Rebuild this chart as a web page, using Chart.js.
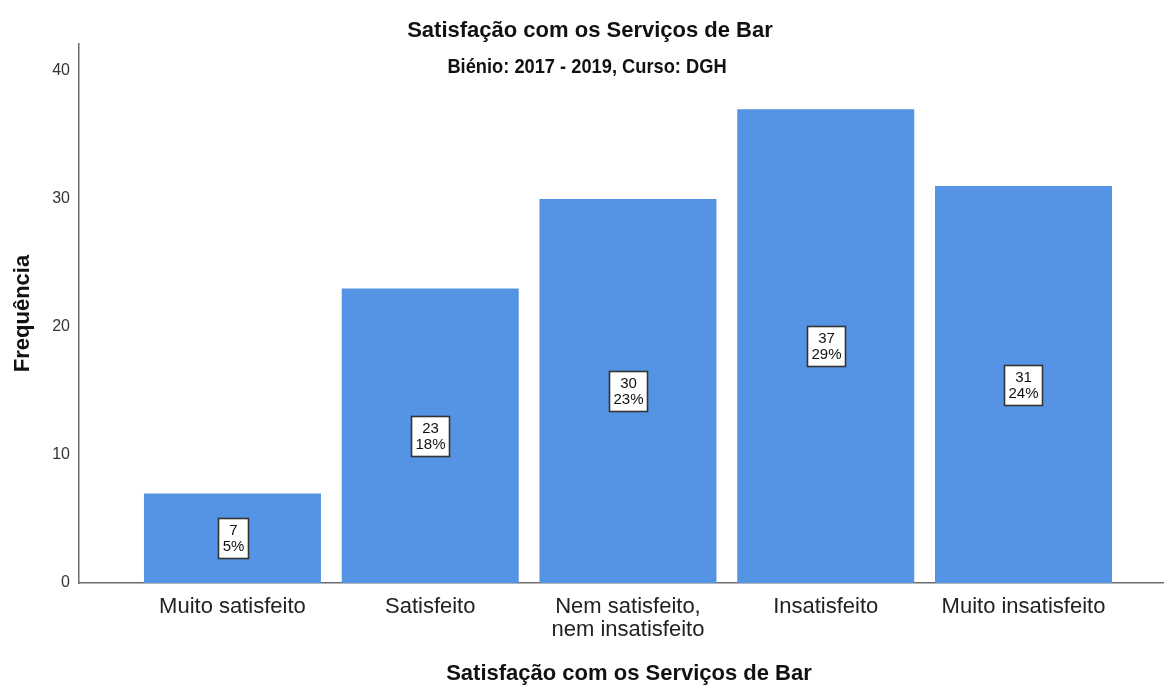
<!DOCTYPE html>
<html>
<head>
<meta charset="utf-8">
<script src="https://cdn.jsdelivr.net/npm/chart.js@4.4.1/dist/chart.umd.min.js"></script>
<style>
  html, body { margin: 0; padding: 0; background: #ffffff; }
  #wrap { width: 1164px; height: 686px; position: relative; }
</style>
</head>
<body>
<div id="wrap"><canvas id="c" width="1164" height="686"></canvas></div>
<script>
// ---- data ----
const categories = [
  ["Muito satisfeito"],
  ["Satisfeito"],
  ["Nem satisfeito,", "nem insatisfeito"],
  ["Insatisfeito"],
  ["Muito insatisfeito"]
];
const frequencies = [7, 23, 30, 37, 31];
const percentLabels = ["5%", "18%", "23%", "29%", "24%"];
const yTicks = [0, 10, 20, 30, 40];
const chartTitle = "Satisfação com os Serviços de Bar";
const chartSubtitle = "Biénio: 2017 - 2019, Curso: DGH";
const xAxisTitle = "Satisfação com os Serviços de Bar";
const yAxisTitle = "Frequência";

const FONT = "'Liberation Sans', Arial, sans-serif";
Chart.defaults.font.family = FONT;

const textPlugin = {
  id: 'texts',
  afterDatasetsDraw(chart) {
    const ctx = chart.ctx;
    const meta = chart.getDatasetMeta(0);
    ctx.save();
    meta.data.forEach((bar, i) => {
      const cx = bar.x;
      const cy = (bar.y + bar.base) / 2;
      ctx.font = "15px " + FONT;
      const lines = [String(frequencies[i]), percentLabels[i]];
      const w = Math.max(...lines.map(l => ctx.measureText(l).width)) + 8;
      const lh = 16;
      const h = lines.length * lh + 8;
      const x0 = Math.round(cx - w / 2) + 0.5, y0 = Math.round(cy - h / 2) + 0.5;
      ctx.fillStyle = '#ffffff';
      ctx.fillRect(x0, y0, Math.round(w), h);
      ctx.strokeStyle = '#333333';
      ctx.lineWidth = 1.6;
      ctx.strokeRect(x0, y0, Math.round(w), h);
      ctx.fillStyle = '#111111';
      ctx.textAlign = 'center';
      ctx.textBaseline = 'middle';
      lines.forEach((l, j) => ctx.fillText(l, x0 + Math.round(w) / 2, y0 + 4 + lh / 2 + j * lh + 0.5));
    });
    ctx.restore();
  },
  afterDraw(chart) {
    const ctx = chart.ctx;
    ctx.save();
    ctx.textAlign = 'center';
    ctx.textBaseline = 'middle';
    ctx.fillStyle = '#111111';
    ctx.font = "bold 22px " + FONT;
    ctx.fillText(chartTitle, 590, 30.5);
    ctx.font = "bold 21px " + FONT;
    ctx.save();
    ctx.translate(587, 67.5);
    ctx.scale(0.87, 1);
    ctx.fillText(chartSubtitle, 0, 0);
    ctx.restore();
    ctx.font = "bold 22px " + FONT;
    ctx.fillText(xAxisTitle, 629, 673.5);
    ctx.restore();
  }
};

new Chart(document.getElementById('c'), {
  type: 'bar',
  data: {
    datasets: [{
      data: frequencies.map((v, i) => ({ x: i, y: v })),
      backgroundColor: '#5594e4',
      borderWidth: 0,
      categoryPercentage: 1,
      barPercentage: 0.895
    }]
  },
  options: {
    responsive: false,
    animation: false,
    devicePixelRatio: 1,
    layout: { padding: { top: 44, left: 0, right: 0, bottom: 0 } },
    plugins: {
      legend: { display: false },
      tooltip: { enabled: false },
      title: { display: false }
    },
    scales: {
      x: {
        type: 'linear',
        min: -0.776,
        max: 4.7105,
        offset: false,
        z: 1,
        grid: { display: false, drawTicks: false },
        border: { display: true, color: '#6b6b6b', width: 1.5 },
        afterBuildTicks(scale) { scale.ticks = categories.map((_, i) => ({ value: i })); },
        afterFit(scale) { scale.height = 103; },
        ticks: {
          autoSkip: false,
          maxRotation: 0,
          minRotation: 0,
          padding: 12,
          color: '#222222',
          font: { size: 22, lineHeight: 1.05 },
          callback: (v) => categories[v] || ''
        },
        title: { display: false }
      },
      y: {
        min: 0,
        max: 42.1,
        grid: { display: false, drawTicks: false },
        border: { display: true, color: '#6b6b6b', width: 1.5 },
        afterBuildTicks(scale) { scale.ticks = yTicks.map(v => ({ value: v })); },
        afterFit(scale) { scale.width = 79; },
        ticks: {
          padding: 9,
          color: '#333333',
          font: { size: 16 }
        },
        title: {
          display: true,
          text: yAxisTitle,
          color: '#111111',
          font: { size: 22, weight: 'bold', lineHeight: 1.2 },
          padding: { top: 10, bottom: 0 }
        }
      }
    }
  },
  plugins: [textPlugin]
});
</script>
</body>
</html>
